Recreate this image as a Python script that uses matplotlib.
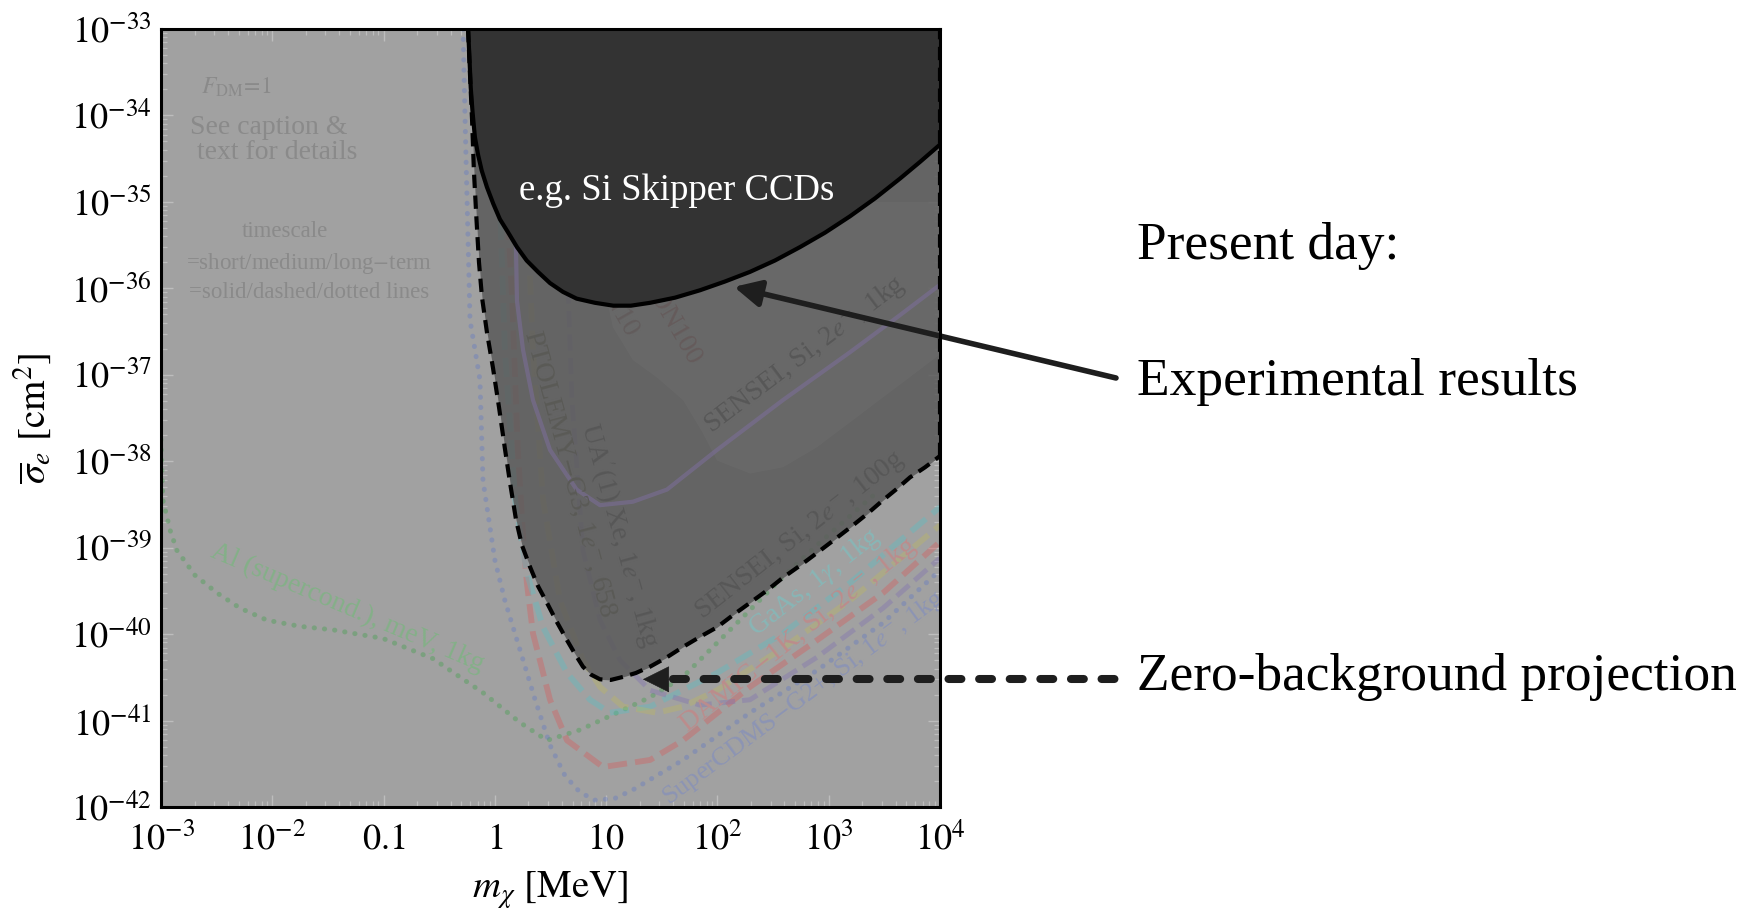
import numpy as np
import matplotlib
matplotlib.use("Agg")
import matplotlib.pyplot as plt
from matplotlib.lines import Line2D
from matplotlib.transforms import IdentityTransform
from matplotlib.ticker import LogLocator, NullFormatter

plt.rcParams["font.family"] = ["Liberation Serif", "DejaVu Serif"]
plt.rcParams["mathtext.fontset"] = "stix"

# ---------------- data (mass in MeV, cross section in cm^2) ----------------
# present-day experimental limit (Si skipper CCDs)
skipper_mass = [0.575, 0.592, 0.607, 0.630, 0.662, 0.705, 0.762, 0.849, 0.968, 1.11,
                1.32, 1.58, 1.93, 2.44, 3.13, 4.09, 5.43, 7.94, 11.6, 16.7, 24.8,
                41.6, 69.7, 117, 196, 329, 552, 925, 1550, 2610, 4370, 6610, 10000]
skipper_sigma = [1.0e-33, 4.4e-34, 2.1e-34, 1.10e-34, 5.6e-35, 3.55e-35, 2.3e-35,
                 1.48e-35, 9.5e-36, 6.3e-36, 4.4e-36, 3.0e-36, 2.1e-36, 1.55e-36,
                 1.15e-36, 9.1e-37, 7.6e-37, 6.8e-37, 6.3e-37, 6.3e-37, 6.8e-37,
                 7.8e-37, 9.5e-37, 1.2e-36, 1.55e-36, 2.1e-36, 3.0e-36, 4.4e-36,
                 6.8e-36, 1.1e-35, 1.86e-35, 2.9e-35, 4.6e-35]

# zero-background projection
proj_mass = [0.574, 0.598, 0.624, 0.648, 0.684, 0.720, 0.766, 0.849, 0.962, 1.09,
             1.23, 1.37, 1.55, 1.75, 2.07, 2.44, 2.94, 3.61, 4.45, 5.25, 6.19, 7.31,
             8.81, 11.0, 14.2, 18.5, 24.8, 35.2, 49.0, 69.7, 99.1, 138, 196, 279,
             388, 552, 785, 1090, 1550, 2210, 3080, 4100, 5370, 7330, 10000]
proj_sigma = [1.0e-33, 2.95e-34, 8.9e-35, 2.3e-35, 6.2e-36, 2.0e-36, 7.9e-37,
              3.1e-37, 1.2e-37, 4.2e-38, 1.41e-38, 5.6e-39, 2.1e-39, 1.07e-39,
              6.0e-40, 3.6e-40, 2.3e-40, 1.38e-40, 8.5e-41, 5.9e-41, 4.2e-41,
              3.4e-41, 3.0e-41, 2.95e-41, 3.2e-41, 3.55e-41, 4.2e-41, 5.4e-41,
              7.1e-41, 9.3e-41, 1.2e-40, 1.66e-40, 2.3e-40, 3.2e-40, 4.5e-40,
              6.2e-40, 8.7e-40, 1.2e-39, 1.7e-39, 2.45e-39, 3.55e-39, 4.8e-39,
              6.5e-39, 8.5e-39, 1.15e-38]

# background projections
al_mass = [0.001, 0.00104, 0.00121, 0.00139, 0.00202, 0.00318, 0.00513, 0.00895,
           0.0177, 0.0351, 0.0989, 0.278, 0.782, 1.68, 2.94, 5.82, 12.5, 24.8, 49.0,
           99.1, 196, 388, 785, 2890]
al_sigma = [1.78e-38, 3.55e-39, 1.58e-39, 9.3e-40, 4.8e-40, 3.0e-40, 2.0e-40,
            1.45e-40, 1.23e-40, 1.12e-40, 8.9e-41, 5.2e-41, 2.1e-41, 9.5e-42,
            5.9e-42, 7.8e-42, 1.23e-41, 1.86e-41, 3.2e-41, 7.9e-41, 1.9e-40,
            4.6e-40, 1.07e-39, 4.7e-39]

cdms_mass = [0.518, 0.540, 0.598, 0.735, 0.782, 1.00, 1.23, 1.68, 2.30, 3.13, 4.27,
             5.82, 7.94, 12.0, 17.4, 49.0, 196, 785, 3080, 10000]
cdms_sigma = [1.0e-33, 8.9e-35, 4.3e-37, 8.7e-38, 6.0e-39, 7.2e-40, 2.45e-40,
              6.6e-41, 1.74e-41, 5.2e-42, 2.3e-42, 1.48e-42, 1.2e-42, 1.26e-42,
              1.58e-42, 3.5e-42, 1.23e-41, 3.8e-41, 1.35e-40, 5.5e-40]

damic_mass = [1.18, 1.29, 1.43, 1.61, 1.83, 1.94, 2.20, 3.13, 4.45, 9.37, 24.8, 49.0,
              196, 785, 3080, 10000]
damic_sigma = [1.0e-33, 1.05e-35, 7.2e-37, 1.35e-38, 9.3e-40, 3.9e-40, 1.02e-40,
               1.74e-41, 5.9e-42, 2.9e-42, 3.5e-42, 5.9e-42, 2.45e-41, 8.5e-41,
               3.0e-40, 1.17e-39]

gaas_mass = [1.04, 1.11, 1.23, 1.52, 1.94, 2.71, 4.45, 7.16, 10.8, 24.8, 99.1, 388,
             1550, 10000]
gaas_sigma = [1.0e-33, 1.05e-35, 1.95e-37, 3.55e-39, 5.1e-40, 1.2e-40, 3.55e-41,
              1.74e-41, 1.23e-41, 1.45e-41, 3.55e-41, 1.02e-40, 3.9e-40, 2.95e-39]

ptolemy_mass = [1.75, 1.94, 2.20, 2.71, 3.85, 6.19, 8.81, 14.2, 28.6, 49.0, 99.1,
                388, 1550, 10000]
ptolemy_sigma = [1.0e-33, 1.05e-35, 1.95e-37, 3.55e-39, 2.45e-40, 5.0e-41, 2.45e-41,
                 1.45e-41, 1.23e-41, 1.45e-41, 2.24e-41, 6.9e-41, 2.45e-40, 1.82e-39]

xe_mass = [3.85, 4.27, 4.93, 6.19, 8.81, 13.3, 24.8, 69.7, 196, 785, 3080, 10000]
xe_sigma = [1.0e-33, 1.05e-35, 5.1e-38, 9.3e-40, 1.45e-40, 5.0e-41, 2.24e-41,
            1.51e-41, 1.74e-41, 5.4e-41, 2.0e-40, 7.6e-40]

sensei1kg_mass = [1.46, 1.52, 1.58, 1.79, 2.20, 3.13, 5.43, 8.81, 17.4, 35.2, 99.1,
                  388, 1550, 4370, 10000]
sensei1kg_sigma = [1.0e-33, 1.05e-35, 7.2e-37, 1.95e-37, 5.1e-38, 1.35e-38, 4.7e-39,
                   3.1e-39, 3.4e-39, 4.7e-39, 1.35e-38, 5.1e-38, 1.82e-37, 4.9e-37,
                   1.1e-36]

sensei_region_mass = [10.2, 11.5, 17.4, 28.6, 49.0, 74.1, 99.1, 196, 388, 785, 9400,
                      10000, 10000, 10.2]
sensei_region_sigma = [7.2e-37, 3.55e-37, 1.48e-37, 9.3e-38, 5.1e-38, 2.1e-38,
                       1.02e-38, 7.2e-39, 8.5e-39, 1.45e-38, 1.62e-37, 1.7e-37,
                       1.0e-35, 1.0e-35]

x_ticks = [1e-3, 1e-2, 0.1, 1, 10, 1e2, 1e3, 1e4]
x_tick_labels = ["$10^{-3}$", "$10^{-2}$", "$0.1$", "$1$", "$10$",
                 "$10^{2}$", "$10^{3}$", "$10^{4}$"]
y_exponents = list(range(-42, -32))
y_tick_labels = ["$10^{%d}$" % e for e in y_exponents]

# ---------------- figure ----------------
fig = plt.figure(figsize=(17.45, 9.17), dpi=100)
ax = fig.add_axes([161 / 1745, 1 - 807 / 917, 779 / 1745, 778 / 917])
ax.set_xscale("log")
ax.set_yscale("log")
ax.set_xlim(1e-3, 1e4)
ax.set_ylim(1e-42, 1e-33)
ax.set_facecolor("#a1a1a1")

dotted = (0, (0.05, 2.0))
dashed = (0, (3.3, 1.4))
faint_curves = [
    (al_mass, al_sigma, "#3a9f45", dotted, 3.6, 0.36),
    (cdms_mass, cdms_sigma, "#5a74c8", dotted, 3.6, 0.34),
    (damic_mass, damic_sigma, "#d85a5a", dashed, 4.2, 0.38),
    (gaas_mass, gaas_sigma, "#4cc4cc", dashed, 4.2, 0.32),
    (ptolemy_mass, ptolemy_sigma, "#c8bf4a", dashed, 4.2, 0.28),
    (xe_mass, xe_sigma, "#7c6cb4", dashed, 3.6, 0.34),
]
for m, s, c, ls, lw, a in faint_curves:
    ax.plot(m, s, color=c, ls=ls, lw=lw, alpha=a,
            dash_capstyle="round" if ls is dotted else "butt", zorder=2)

label_kw = dict(fontsize=20, ha="center", va="center", rotation_mode="anchor",
                clip_on=True)
ax.text(0.0469, 2.0e-40, "Al (supercond.), meV, 1kg", color="#84b088",
        rotation=-23, zorder=2, **label_kw)
ax.text(600, 1.8e-41, "SuperCDMS$-$G2+, Si, 1$e^{-}$, 1kg", color="#8c94b4",
        rotation=36.5, zorder=2, fontsize=19, ha="center", va="center",
        rotation_mode="anchor", clip_on=True)
ax.text(530, 9.8e-41, "DAMIC$-$1K, Si, 2$e^{-}$, 1kg", color="#bc8c8c",
        rotation=38.7, zorder=2, **label_kw)
ax.text(753, 4.0e-40, "GaAs, 1$\\gamma$, 1kg", color="#88b6b6",
        rotation=38, zorder=2, **label_kw)

# projected reach of a zero-background experiment
ax.fill_between(proj_mass, proj_sigma, 1e-33, color="#5a5a5a", alpha=0.85,
                lw=0, zorder=3)
ax.fill(sensei_region_mass, sensei_region_sigma, color="#707070", alpha=0.4,
        lw=0, zorder=3.1)
ax.plot(sensei1kg_mass, sensei1kg_sigma, color="#7a6d96", lw=3.0, alpha=0.62,
        zorder=3.5)

inner_kw = dict(fontsize=20, ha="center", va="center", rotation_mode="anchor",
                zorder=3.6, clip_on=True)
ax.text(552, 1.4e-39, "SENSEI, Si, 2$e^{-}$, 100g", color="#575757", rotation=38,
        **inner_kw)
ax.text(612, 1.7e-37, "SENSEI, Si, 2$e^{-}$, 1kg", color="#575757", rotation=37,
        **inner_kw)
ax.text(13.3, 1.4e-39, "UA$'$(1) Xe, 1$e^{-}$, 1kg", color="#575757", rotation=-74.5,
        **inner_kw)
ax.text(4.73, 7.1e-39, "PTOLEMY$-$G3, 1$e^{-}$, 658", color="#5a5a56", rotation=-75,
        **inner_kw)
ax.text(17.1, 2.9e-37, "XENON10", color="#625c5c", fontsize=20, ha="right",
        va="center", rotation=-60, rotation_mode="anchor", zorder=3.6)
ax.text(62.8, 1.4e-37, "XENON100", color="#655b5b", fontsize=20, ha="right",
        va="center", rotation=-60, rotation_mode="anchor", zorder=3.6)

# present-day exclusion
ax.fill_between(skipper_mass, skipper_sigma, 1e-33, color="#333333", lw=0, zorder=4)
ax.plot(skipper_mass, skipper_sigma, color="black", lw=3.0, zorder=5)
ax.plot(proj_mass, proj_sigma, color="black", lw=3.0, ls=(0, (3.2, 1.8)), zorder=5)
ax.plot([proj_mass[-1], proj_mass[-1]], [proj_sigma[-1], 1e-33], color="black",
        lw=3.0, ls=(0, (3.2, 1.8)), zorder=5)
ax.text(43.3, 1.34e-35, "e.g. Si Skipper CCDs", color="white", fontsize=26.5,
        ha="center", va="center", zorder=6)

# faint legend notes
note_color = "#8a8a8a"
ax.text(0.0963, 0.9254, "$F_{\\mathrm{DM}}\\!=\\!1$", transform=ax.transAxes,
        color=note_color, fontsize=17, ha="center", va="center", zorder=2)
ax.text(0.1386, 0.8740, "See caption &", transform=ax.transAxes, color=note_color,
        fontsize=20, ha="center", va="center", zorder=2)
ax.text(0.1489, 0.8419, "text for details", transform=ax.transAxes, color=note_color,
        fontsize=20, ha="center", va="center", zorder=2)
ax.text(0.1592, 0.7391, "timescale", transform=ax.transAxes, color=note_color,
        fontsize=16.5, ha="center", va="center", zorder=2)
ax.text(0.1900, 0.6992, "=short/medium/long$-$term", transform=ax.transAxes,
        color=note_color, fontsize=16.5, ha="center", va="center", zorder=2)
ax.text(0.1900, 0.6607, "=solid/dashed/dotted lines", transform=ax.transAxes,
        color=note_color, fontsize=16.5, ha="center", va="center", zorder=2)

# axes styling
for sp in ax.spines.values():
    sp.set_linewidth(2.2)
    sp.set_color("black")
    sp.set_zorder(10)
ax.set_xticks(x_ticks, x_tick_labels)
ax.set_yticks([10.0 ** e for e in y_exponents], y_tick_labels)
ax.xaxis.set_minor_locator(LogLocator(base=10, subs=np.arange(2, 10), numticks=100))
ax.yaxis.set_minor_locator(LogLocator(base=10, subs=np.arange(2, 10), numticks=100))
ax.xaxis.set_minor_formatter(NullFormatter())
ax.yaxis.set_minor_formatter(NullFormatter())
ax.tick_params(which="both", direction="in", top=True, right=True,
               color="#bdbdbd", labelcolor="black", labelsize=26)
ax.tick_params(which="major", length=8.6, width=1.0)
ax.tick_params(which="minor", length=4.3, width=0.9)
ax.tick_params(axis="x", which="major", pad=24)
ax.tick_params(axis="y", which="major", pad=6.5)
for lbl in ax.get_xticklabels():
    lbl.set_va("center")

ax.set_xlabel("$m_{\\chi}\\ [\\mathrm{MeV}]$", fontsize=28)
ax.xaxis.set_label_coords(0.5, -0.107)
ax.xaxis.label.set_va("center")
ax.set_ylabel("$\\overline{\\sigma}_{e}\\ [\\mathrm{cm}^{2}]$", fontsize=28)
ax.yaxis.set_label_coords(-0.164, 0.5)
ax.yaxis.label.set_va("center")

# ---------------- annotations ----------------
ink = "#1e1e1e"
fig.text(1137 / 1745, 1 - 259 / 917, "Present day:", fontsize=38.4, ha="left",
         va="baseline")
fig.text(1137 / 1745, 1 - 395 / 917, "Experimental results", fontsize=38.4,
         ha="left", va="baseline")
fig.text(1137 / 1745, 1 - 690 / 917, "Zero-background projection", fontsize=38.4,
         ha="left", va="baseline")

ax.annotate("", xy=(141, 1.04e-36), xycoords="data",
            xytext=(1116 / 1745, 1 - 378 / 917), textcoords="figure fraction",
            arrowprops=dict(arrowstyle="-|>,head_length=1.0,head_width=0.5",
                            mutation_scale=16, lw=4.0, color=ink,
                            shrinkA=0, shrinkB=0),
            annotation_clip=False, zorder=7)

head_tip = (21.4, 3.0e-41)
ax.annotate("", xy=head_tip, xycoords="data", xytext=(19, 0),
            textcoords="offset points",
            arrowprops=dict(arrowstyle="-|>,head_length=1.0,head_width=0.5",
                            mutation_scale=18, lw=0.5, color=ink,
                            shrinkA=0, shrinkB=0),
            annotation_clip=False, zorder=7)
tip_px = ax.transData.transform(head_tip)
shaft = Line2D([tip_px[0] + 30, 1118], [tip_px[1], tip_px[1]],
               transform=IdentityTransform(), color=ink, lw=5.8,
               ls=(0, (1.6, 2.2)), dash_capstyle="round", zorder=7)
fig.add_artist(shaft)

fig.savefig("out.png", dpi=100, facecolor="white")
